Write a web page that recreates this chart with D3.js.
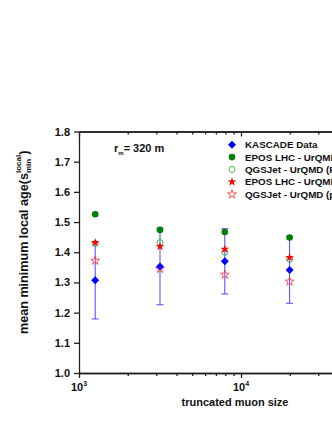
<html>
<meta charset="utf-8" />
<head>
<title>mean minimum local age</title>
<script src="https://cdn.jsdelivr.net/npm/d3@7/dist/d3.min.js"></script>
<style>
	body { margin: 0; background: #fff; }
	text { font-family: "Liberation Sans", Arial, sans-serif; font-weight: bold; fill: #111; }
</style>
<script>
// truncated muon size bins
const muonSize = [1259, 3162, 7943, 19953];
// KASCADE data and its error
const kascade = [1.307, 1.353, 1.370, 1.341];
const kascadeErr = [0.128, 0.127, 0.108, 0.110];
// simulations
const eposFe = [1.526, 1.474, 1.467, 1.449];
const qgsFe = [1.429, 1.432, 1.400, 1.377];
const eposP = [1.432, 1.419, 1.410, 1.383];
const qgsP = [1.372, 1.345, 1.326, 1.303];
const seriesNames = ['KASCADE Data', 'EPOS LHC - UrQMD (Fe)', 'QGSJet - UrQMD (Fe)', 'EPOS LHC - UrQMD (p)', 'QGSJet - UrQMD (p)'];
const yTicks = [1.0, 1.1, 1.2, 1.3, 1.4, 1.5, 1.6, 1.7, 1.8];
const xMajor = [1e3, 1e4, 1e5];
const xLabeled = [1e3, 1e4];
const xMinor = [2e3, 3e3, 4e3, 5e3, 6e3, 7e3, 8e3, 9e3, 2e4, 3e4, 4e4, 5e4, 6e4, 7e4, 8e4, 9e4];

window.onload = function() {
	let svg = d3.select('svg');
	let xScale = d3.scaleLog().domain([1e3, 1e5]).range([79, 403]);
	let yScale = d3.scaleLinear().domain([1.0, 1.8]).range([373, 131.5]);

	// axes
	let yAxis = d3.axisLeft(yScale).tickValues(yTicks).tickSize(5).tickSizeOuter(0).tickPadding(4)
		.tickFormat(d3.format('.1f'));
	let gy = svg.append('g').attr('transform', 'translate(79,0)').call(yAxis);

	let gxMin = svg.append('g').attr('transform', 'translate(0,373)')
		.call(d3.axisBottom(xScale).tickValues(xMinor).tickSize(3).tickSizeOuter(0).tickFormat(''));
	let gx = svg.append('g').attr('transform', 'translate(0,373)')
		.call(d3.axisBottom(xScale).tickValues(xMajor).tickSize(5).tickSizeOuter(0).tickFormat(''));
	let gtMin = svg.append('g').attr('transform', 'translate(0,131.5)')
		.call(d3.axisTop(xScale).tickValues(xMinor).tickSize(-3).tickSizeOuter(0).tickFormat(''));
	let gt = svg.append('g').attr('transform', 'translate(0,131.5)')
		.call(d3.axisTop(xScale).tickValues(xMajor).tickSize(-5).tickSizeOuter(0).tickFormat(''));

	[gy, gxMin, gx, gtMin, gt].forEach((g) => {
		g.selectAll('path, line').attr('stroke', '#222').attr('stroke-width', 1.3);
		g.selectAll('text').attr('font-size', 11).attr('fill', '#111');
	});

	// 10^n labels
	let xl = svg.append('g').selectAll('text').data(xLabeled).enter()
		.append('text')
		.attr('x', (d) => xScale(d))
		.attr('y', 391)
		.attr('text-anchor', 'middle')
		.attr('font-size', 11);
	xl.append('tspan').text('10');
	xl.append('tspan').attr('font-size', 7).attr('dy', -5).text((d) => Math.round(Math.log10(d)));

	// axis titles
	svg.append('text').attr('x', 235).attr('y', 406).attr('text-anchor', 'middle')
		.attr('font-size', 11).text('truncated muon size');

	let yl = svg.append('text').attr('transform', 'translate(28,334) rotate(-90)')
		.attr('font-size', 12.6);
	yl.append('tspan').text('mean minimum local age(s');
	let tMin = yl.append('tspan').attr('font-size', 8).attr('dy', 3).text('min');
	let w = tMin.node().getComputedTextLength();
	yl.append('tspan').attr('font-size', 8).attr('dx', -w).attr('dy', -10).text('local');
	yl.append('tspan').attr('dy', 7).text(')');

	// r_m label
	let rm = svg.append('text').attr('x', 114).attr('y', 152).attr('font-size', 11);
	rm.append('tspan').text('r');
	rm.append('tspan').attr('font-size', 6).attr('dy', 3).text('m');
	rm.append('tspan').attr('dy', -3).text('= 320 m');

	// error bars
	let eb = svg.append('g').attr('stroke', '#4a4aff').attr('stroke-width', 1).attr('fill', 'none');
	muonSize.forEach((m, i) => {
		let x = xScale(m), y0 = yScale(kascade[i] - kascadeErr[i]), y1 = yScale(kascade[i] + kascadeErr[i]);
		eb.append('line').attr('x1', x).attr('x2', x).attr('y1', y0).attr('y2', y1);
		eb.append('line').attr('x1', x - 3.5).attr('x2', x + 3.5).attr('y1', y0).attr('y2', y0);
		eb.append('line').attr('x1', x - 3.5).attr('x2', x + 3.5).attr('y1', y1).attr('y2', y1);
	});

	let star = d3.symbol().type(d3.symbolStar).size(24);
	let diamond = d3.symbol().type(d3.symbolSquare).size(32);

	let styles = [
		{ vals: kascade, draw: (g) => g.append('path').attr('d', diamond()).attr('transform-extra', 'rotate(45)').attr('fill', '#0000ff') },
		{ vals: eposFe, draw: (g) => g.append('circle').attr('r', 3.3).attr('fill', '#007f00') },
		{ vals: qgsFe, draw: (g) => g.append('circle').attr('r', 3).attr('fill', 'none').attr('stroke', '#1f9f1f').attr('stroke-width', 0.8) },
		{ vals: eposP, draw: (g) => g.append('path').attr('d', star()).attr('fill', '#ff0000') },
		{ vals: qgsP, draw: (g) => g.append('path').attr('d', star()).attr('fill', 'none').attr('stroke', '#ff3030').attr('stroke-width', 0.8) }
	];

	function place(g, s, x, y) {
		let node = s.draw(g.append('g').attr('transform', 'translate(' + x + ',' + y + ')'));
		if (node.attr('transform-extra')) node.attr('transform', node.attr('transform-extra'));
	}

	// draw order: circles first, then stars, diamonds
	let marks = svg.append('g');
	[1, 2, 3, 4, 0].forEach((k) => {
		let s = styles[k];
		s.vals.forEach((v, i) => place(marks, s, xScale(muonSize[i]), yScale(v)));
	});

	// legend
	let lg = svg.append('g');
	seriesNames.forEach((name, k) => {
		let y = 144.7 + k * 12.4;
		place(lg, styles[k], 232, y);
		lg.append('text').attr('x', 245).attr('y', y + 3.5).attr('font-size', 9.8).text(name);
	});
}
</script>
</head>
<body>
<div>
	<svg width="332" height="430" style="background:#fff"></svg>
</div>
</body>
</html>
